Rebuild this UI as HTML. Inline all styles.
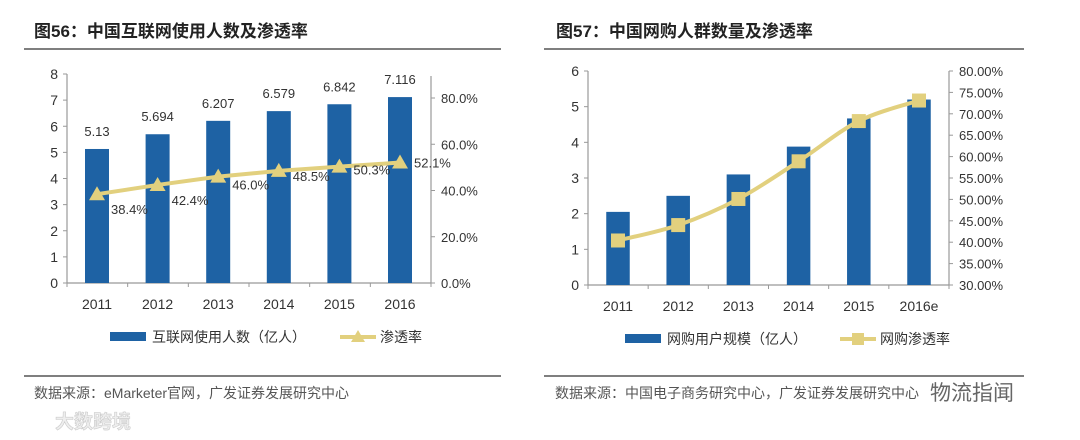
<!DOCTYPE html>
<html><head><meta charset="utf-8">
<style>
body{margin:0;background:#fff;width:1080px;height:440px;overflow:hidden;font-family:"Liberation Sans","Noto Sans CJK SC",sans-serif;}
svg{position:absolute;left:0;top:0}
</style></head><body>
<svg width="1080" height="440">
<g>
<text x="34" y="37" font-size="17" font-weight="bold" fill="#222">图56：中国互联网使用人数及渗透率</text>
<line x1="24" y1="49" x2="501" y2="49" stroke="#555" stroke-width="1.5"/>
<line x1="24" y1="376" x2="501" y2="376" stroke="#555" stroke-width="1.5"/>
<text x="34" y="398" font-size="14" fill="#555">数据来源：eMarketer官网，广发证券发展研究中心</text>
<text x="55" y="428" font-size="19" font-weight="bold" fill="#eee" stroke="#ccc" stroke-width="0.6">大数跨境</text>
</g>
<g>
<text x="556" y="37" font-size="17" font-weight="bold" fill="#222">图57：中国网购人群数量及渗透率</text>
<line x1="544" y1="49" x2="1024" y2="49" stroke="#555" stroke-width="1.5"/>
<line x1="544" y1="376" x2="1024" y2="376" stroke="#555" stroke-width="1.5"/>
<text x="555" y="398" font-size="14" fill="#555">数据来源：中国电子商务研究中心，广发证券发展研究中心</text>
<text x="930" y="400" font-size="21" fill="#666">物流指闻</text>
</g>
<g id="c1"></g>
<g id="c2"></g>
</svg>
<script>
const cats1=["2011","2012","2013","2014","2015","2016"];
const users1=[5.13,5.694,6.207,6.579,6.842,7.116];
const userLabels1=["5.13","5.694","6.207","6.579","6.842","7.116"];
const pen1=[38.4,42.4,46.0,48.5,50.3,52.1];
const penLabels1=["38.4%","42.4%","46.0%","48.5%","50.3%","52.1%"];
const leftTicks1=[0,1,2,3,4,5,6,7,8];
const rightTicks1=[0,20,40,60,80];

const cats2=["2011","2012","2013","2014","2015","2016e"];
const users2=[2.05,2.5,3.1,3.88,4.67,5.2];
const pen2=[40.4,44.0,50.1,58.9,68.3,73.1];
const leftTicks2=[0,1,2,3,4,5,6];
const rightTicks2=[30,35,40,45,50,55,60,65,70,75,80];

const NS="http://www.w3.org/2000/svg";
const BLUE="#1e62a4",GOLD="#e2d07e";
function mk(p,tag,a,txt){const e=document.createElementNS(NS,tag);for(const k in a)e.setAttribute(k,a[k]);if(txt!==undefined)e.textContent=txt;p.appendChild(e);return e;}

function draw(g,o){
  const xs=i=>o.x0+i*o.step;
  const yL=v=>o.yb-(v-o.lmin)/(o.lmax-o.lmin)*(o.yb-o.yt);
  const yR=v=>o.yb-(v-o.rmin)/(o.rmax-o.rmin)*(o.yb-o.yrt);
  const axisC="#999";
  mk(g,"line",{x1:o.ax,y1:o.yt,x2:o.ax,y2:o.yb,stroke:axisC,"stroke-width":1.2});
  mk(g,"line",{x1:o.rx,y1:o.raxTop,x2:o.rx,y2:o.yb,stroke:axisC,"stroke-width":1.2});
  mk(g,"line",{x1:o.ax,y1:o.yb,x2:o.rx,y2:o.yb,stroke:axisC,"stroke-width":1.2});
  o.lt.forEach(v=>{const y=yL(v);
    mk(g,"line",{x1:o.ax-4,y1:y,x2:o.ax,y2:y,stroke:axisC});
    const t=mk(g,"text",{x:o.ax-9,y:y+5,"font-size":14,fill:"#333","text-anchor":"end"},String(v));
    
    });
  o.rt.forEach(v=>{const y=yR(v);
    mk(g,"line",{x1:o.rx,y1:y,x2:o.rx+4,y2:y,stroke:axisC});
    const t=mk(g,"text",{x:o.rx+10,y:y+5,"font-size":13,fill:"#333"},v.toFixed(o.rdec)+"%");
    
    });
  for(let i=0;i<=o.cats.length;i++){const x=o.ax+i*(o.rx-o.ax)/o.cats.length;
    mk(g,"line",{x1:x,y1:o.yb,x2:x,y2:o.yb+4,stroke:axisC});}
  o.cats.forEach((c,i)=>{
    const t=mk(g,"text",{x:xs(i),y:o.yb+26,"font-size":14,fill:"#333","text-anchor":"middle"},c);
    
    
    const b=mk(g,"rect",{x:xs(i)-o.bw/2,y:yL(o.users[i]),width:o.bw,height:o.yb-yL(o.users[i]),fill:BLUE});
    
    
    if(o.ulab){const l=mk(g,"text",{x:xs(i),y:yL(o.users[i])-13,"font-size":13,fill:"#333","text-anchor":"middle"},o.ulab[i]);
      
      }
  });
  const pts=o.pen.map((v,i)=>[xs(i),yR(v)]);
  let d="M"+pts[0][0]+","+pts[0][1];
  if(o.smooth){for(let i=0;i<pts.length-1;i++){const p0=pts[Math.max(0,i-1)],p1=pts[i],p2=pts[i+1],p3=pts[Math.min(pts.length-1,i+2)];
    d+=` C${p1[0]+(p2[0]-p0[0])/6},${p1[1]+(p2[1]-p0[1])/6} ${p2[0]-(p3[0]-p1[0])/6},${p2[1]-(p3[1]-p1[1])/6} ${p2[0]},${p2[1]}`;}}
  else pts.slice(1).forEach(p=>d+=" L"+p[0]+","+p[1]);
  const ln=mk(g,"path",{d:d,fill:"none",stroke:GOLD,"stroke-width":4});
  
  
  pts.forEach((p,i)=>{let m;
    if(o.marker==="tri") m=mk(g,"polygon",{points:`${p[0]},${p[1]-8} ${p[0]-8},${p[1]+6} ${p[0]+8},${p[1]+6}`,fill:GOLD});
    else m=mk(g,"rect",{x:p[0]-7,y:p[1]-7,width:14,height:14,fill:GOLD});
    
    
    if(o.plab){const l=mk(g,"text",{x:p[0]+14,y:p[1]+(i===0?20:i===1?20:i===2?13:i===3?10:i===4?8:5),"font-size":13,fill:"#333"},o.plab[i]);
      
      }
  });
  // legend
  const lg=mk(g,"g",{});
  
  
  mk(lg,"rect",{x:o.lgx,y:o.lgy-5,width:36,height:9,fill:BLUE});
  mk(lg,"text",{x:o.lgx+42,y:o.lgy+5,"font-size":14,fill:"#333"},o.lg1);
  mk(lg,"line",{x1:o.lgx2,y1:o.lgy,x2:o.lgx2+36,y2:o.lgy,stroke:GOLD,"stroke-width":4});
  if(o.marker==="tri") mk(lg,"polygon",{points:`${o.lgx2+18},${o.lgy-7} ${o.lgx2+11},${o.lgy+5} ${o.lgx2+25},${o.lgy+5}`,fill:GOLD});
  else mk(lg,"rect",{x:o.lgx2+12,y:o.lgy-6,width:12,height:12,fill:GOLD});
  mk(lg,"text",{x:o.lgx2+40,y:o.lgy+5,"font-size":14,fill:"#333"},o.lg2);
}
draw(document.getElementById("c1"),{cats:cats1,users:users1,ulab:userLabels1,pen:pen1,plab:penLabels1,lt:leftTicks1,rt:rightTicks1,rdec:1,
  ax:67,rx:431,yt:74,yb:283,lmin:0,lmax:8,rmin:0,rmax:80,yrt:98,raxTop:76,x0:97,step:60.6,bw:24,smooth:false,marker:"tri",
  lgx:110,lgx2:340,lgy:337,lg1:"互联网使用人数（亿人）",lg2:"渗透率"});
draw(document.getElementById("c2"),{cats:cats2,users:users2,pen:pen2,lt:leftTicks2,rt:rightTicks2,rdec:2,
  ax:588,rx:949,yt:71,yb:285,lmin:0,lmax:6,rmin:30,rmax:80,yrt:71,raxTop:71,x0:618,step:60.2,bw:23.5,smooth:true,marker:"sq",
  lgx:625,lgx2:840,lgy:339,lg1:"网购用户规模（亿人）",lg2:"网购渗透率"});
</script>
</body></html>
